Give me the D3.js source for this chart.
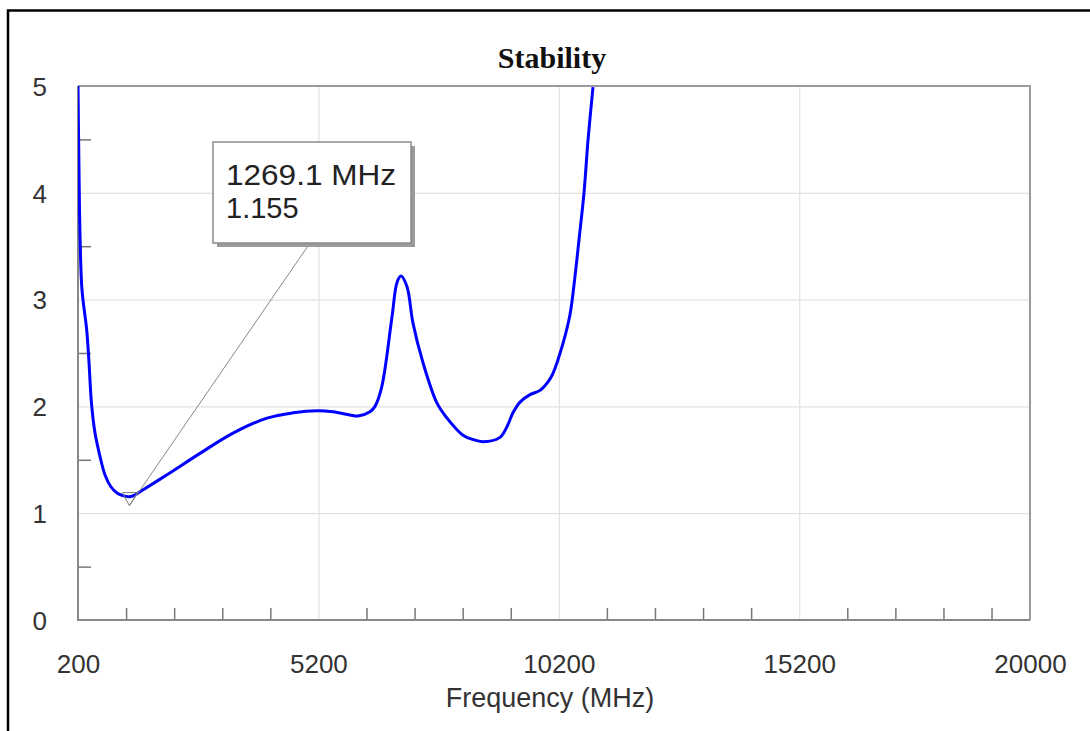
<!DOCTYPE html>
<html>
<head>
<meta charset="utf-8">
<script src="https://cdn.jsdelivr.net/npm/d3@7"></script>
<style>
  body { margin: 0; background: #fff; }
  svg { display: block; }
  .tick-label { font-family: "Liberation Sans", Arial, sans-serif; fill: #333; }
</style>
</head>
<body>
<div id="chart"></div>
<script>
/* values */
const freqMHz = [200, 221, 242, 283, 380, 429, 480, 554, 658, 760, 880, 1011, 1130, 1269.1, 1380, 1489,
  2051, 2737, 3424, 4131, 4672, 5171, 5504, 5857, 6023, 6273, 6377, 6516, 6731, 6835, 6918, 7043,
  7167, 7375, 7667, 7875, 8207, 8415, 8623, 8977, 9122, 9247, 9393, 9601, 9809, 9975, 10079,
  10287, 10433, 10537, 10620, 10724, 10807, 10911];
const stability = [5.0, 4.2, 3.6, 3.09, 2.72, 2.41, 2.03, 1.75, 1.53, 1.36, 1.25, 1.19, 1.165, 1.155, 1.17, 1.20,
  1.36, 1.56, 1.75, 1.89, 1.94, 1.96, 1.95, 1.92, 1.91, 1.95, 2.00, 2.18, 2.84, 3.16, 3.22, 3.12,
  2.78, 2.41, 2.03, 1.89, 1.73, 1.69, 1.67, 1.71, 1.81, 1.94, 2.04, 2.11, 2.15, 2.23, 2.31,
  2.59, 2.86, 3.22, 3.56, 4.00, 4.49, 4.99];

const xTickValues = [200, 5200, 10200, 15200, 20000];
const xMinorTicks = [1200, 2200, 3200, 4200, 6200, 7200, 8200, 9200, 11200, 12200, 13200, 14200,
  16200, 17200, 18200, 19200];
const xGridValues = [5200, 10200, 15200];
const yTickValues = [0, 1, 2, 3, 4, 5];
const yMinorTicks = [0.5, 1.5, 2.5, 3.5, 4.5];
const yGridValues = [1, 2, 3, 4];

const markerFreq = 1269.1;
const markerValue = 1.155;

const W = 1090, H = 731;
const margin = { top: 86, right: 60, bottom: 111, left: 78 };
const width = W - margin.left - margin.right;   // 952
const height = H - margin.top - margin.bottom;  // 534

const svg = d3.select("#chart").append("svg")
  .attr("width", W)
  .attr("height", H);

svg.append("rect").attr("width", W).attr("height", H).attr("fill", "#fff");

// outer frame (top and left only visible)
svg.append("path")
  .attr("d", `M8,${H} L8,10.5 L${W},10.5`)
  .attr("fill", "none")
  .attr("stroke", "#000")
  .attr("stroke-width", 2.5);

const g = svg.append("g").attr("transform", `translate(${margin.left},${margin.top})`);

const x = d3.scaleLinear().domain([200, 20000]).range([0, width]);
const y = d3.scaleLinear().domain([0, 5]).range([height, 0]);

// grid
g.append("g")
  .call(d3.axisLeft(y).tickValues(yGridValues).tickSize(-width).tickFormat(""))
  .call(a => a.select(".domain").remove())
  .call(a => a.selectAll("line").attr("stroke", "#e2e2e2").attr("stroke-width", 1.2));

g.append("g")
  .attr("transform", `translate(0,${height})`)
  .call(d3.axisBottom(x).tickValues(xGridValues).tickSize(-height).tickFormat(""))
  .call(a => a.select(".domain").remove())
  .call(a => a.selectAll("line").attr("stroke", "#e2e2e2").attr("stroke-width", 1.2));

// plot border (top / right)
g.append("path")
  .attr("d", `M0,0 L${width},0 L${width},${height}`)
  .attr("fill", "none")
  .attr("stroke", "#9a9a9a")
  .attr("stroke-width", 2);

// minor ticks
g.append("g")
  .attr("transform", `translate(0,${height})`)
  .call(d3.axisTop(x).tickValues(xMinorTicks).tickSize(12).tickFormat(""))
  .call(a => a.select(".domain").remove())
  .call(a => a.selectAll("line").attr("stroke", "#777").attr("stroke-width", 1.5));

g.append("g")
  .call(d3.axisRight(y).tickValues(yMinorTicks).tickSize(13).tickFormat(""))
  .call(a => a.select(".domain").remove())
  .call(a => a.selectAll("line").attr("stroke", "#777").attr("stroke-width", 1.5));

// axis lines
g.append("path")
  .attr("d", `M0,0 L0,${height} L${width},${height}`)
  .attr("fill", "none")
  .attr("stroke", "#888")
  .attr("stroke-width", 2);

// tick labels
g.append("g")
  .attr("transform", `translate(0,${height})`)
  .call(d3.axisBottom(x).tickValues(xTickValues).tickSize(0).tickPadding(0).tickFormat(d3.format("d")))
  .call(a => a.select(".domain").remove())
  .call(a => a.selectAll("text")
    .attr("class", "tick-label")
    .attr("dy", null)
    .attr("y", 53)
    .style("font-size", "26px"));

g.append("g")
  .call(d3.axisLeft(y).tickValues(yTickValues).tickSize(0).tickPadding(31).tickFormat(d3.format("d")))
  .call(a => a.select(".domain").remove())
  .call(a => a.selectAll("text")
    .attr("class", "tick-label")
    .attr("dy", "0.36em")
    .style("font-size", "26px"));

// curve
const clipId = "plot-clip";
svg.append("clipPath").attr("id", clipId)
  .append("rect").attr("x", 0).attr("y", -1).attr("width", width).attr("height", height + 1);

const series = freqMHz.map((f, i) => ({ f, v: stability[i] }));

g.append("path")
  .datum(series)
  .attr("clip-path", `url(#${clipId})`)
  .attr("fill", "none")
  .attr("stroke", "#0000ff")
  .attr("stroke-width", 3)
  .attr("stroke-linejoin", "round")
  .attr("d", d3.line().x(d => x(d.f)).y(d => y(d.v)).curve(d3.curveCatmullRom.alpha(0.5)));

// marker callout
const mx = x(markerFreq), my = y(markerValue);
const box = { x: 213 - margin.left, y: 142 - margin.top, w: 198, h: 101 };

g.append("line")
  .attr("x1", box.x + 97).attr("y1", box.y + box.h)
  .attr("x2", mx).attr("y2", my + 9)
  .attr("stroke", "#888")
  .attr("stroke-width", 1);

g.append("path")
  .attr("d", `M${mx - 7},${my - 4} L${mx + 8},${my - 4} L${mx},${my + 9} Z`)
  .attr("fill", "none")
  .attr("stroke", "#777")
  .attr("stroke-width", 1);

g.append("rect")
  .attr("x", box.x + 4).attr("y", box.y + 4)
  .attr("width", box.w).attr("height", box.h)
  .attr("fill", "#9a9a9a");

g.append("rect")
  .attr("x", box.x).attr("y", box.y)
  .attr("width", box.w).attr("height", box.h)
  .attr("fill", "#fff")
  .attr("stroke", "#8a8a8a")
  .attr("stroke-width", 1.5);

const callout = g.append("text")
  .attr("class", "tick-label")
  .style("font-size", "29px")
  .style("fill", "#222");
callout.append("tspan")
  .attr("x", box.x + 13).attr("y", box.y + 43)
  .attr("textLength", 170).attr("lengthAdjust", "spacingAndGlyphs")
  .text(`${markerFreq} MHz`);
callout.append("tspan")
  .attr("x", box.x + 13).attr("y", box.y + 76)
  .text(markerValue.toFixed(3));

// titles
svg.append("text")
  .attr("x", margin.left + width / 2 - 2)
  .attr("y", 68)
  .attr("text-anchor", "middle")
  .style("font-family", "'Liberation Serif', 'Times New Roman', serif")
  .style("font-weight", "bold")
  .style("font-size", "30px")
  .style("fill", "#111")
  .text("Stability");

svg.append("text")
  .attr("class", "tick-label")
  .attr("x", margin.left + width / 2 - 4)
  .attr("y", 707)
  .attr("text-anchor", "middle")
  .style("font-size", "27px")
  .text("Frequency (MHz)");
</script>
</body>
</html>
